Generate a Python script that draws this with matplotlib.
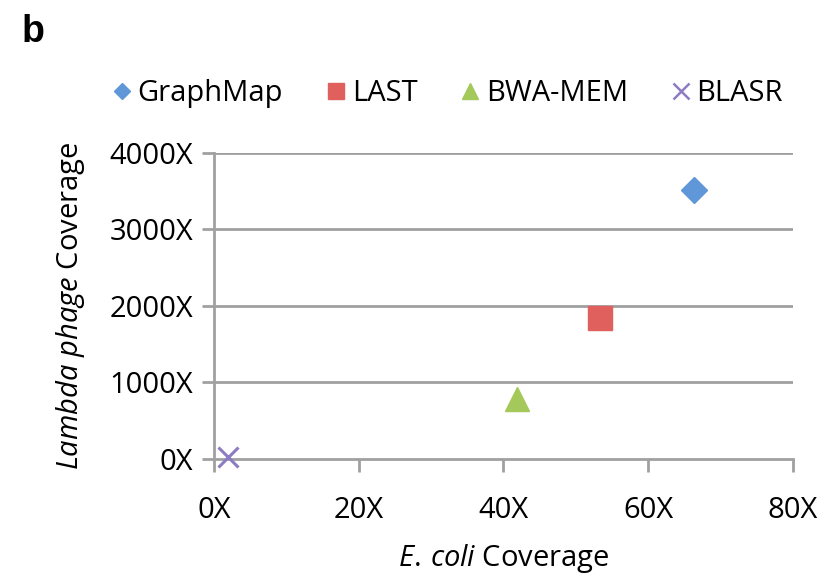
import matplotlib.pyplot as plt

plt.rcParams['font.family'] = ['Open Sans', 'DejaVu Sans']
plt.rcParams['mathtext.fontset'] = 'custom'
plt.rcParams['mathtext.it'] = 'Open Sans:italic'
plt.rcParams['mathtext.rm'] = 'Open Sans'

# tool names and their coverages (E. coli, Lambda phage)
tools = ['GraphMap', 'LAST', 'BWA-MEM', 'BLASR']
ecoli_cov = [66.3, 53.3, 41.9, 1.9]
lambda_cov = [3515, 1840, 790, 25]

markers = ['D', 's', '^', 'x']
colors = ['#5f97d8', '#e0605e', '#a5c85a', '#8e7cc3']
sizes = [13, 17, 17, 14]
leg_sizes = [8, 11, 11, 11]

xticks = [0, 20, 40, 60, 80]
yticks = [0, 1000, 2000, 3000, 4000]

fig = plt.figure(figsize=(8.32, 5.78), dpi=100)
ax = fig.add_axes([0.2572, 0.2059, 0.6959, 0.5294])

grid_c = '#a0a0a0'
for y in yticks[1:]:
    ax.axhline(y, color=grid_c, lw=2, zorder=1)

handles = []
for i in range(len(tools)):
    if markers[i] == 'x':
        ax.plot(ecoli_cov[i], lambda_cov[i], marker='x', ms=sizes[i], mew=2.2,
                color=colors[i], ls='none', zorder=3, clip_on=False)
        h, = plt.plot([], [], marker='x', ms=leg_sizes[i], mew=1.8, color=colors[i], ls='none')
    else:
        ax.plot(ecoli_cov[i], lambda_cov[i], marker=markers[i], ms=sizes[i],
                color=colors[i], mec=colors[i], ls='none', zorder=3, clip_on=False)
        h, = plt.plot([], [], marker=markers[i], ms=leg_sizes[i], color=colors[i],
                      mec=colors[i], ls='none')
    handles.append(h)

ax.set_xlim(0, 80)
ax.set_ylim(0, 4000)
ax.set_xticks(xticks)
ax.set_xticklabels([f'{v}X' for v in xticks])
ax.set_yticks(yticks)
ax.set_yticklabels([f'{v}X' for v in yticks])

for s in ['top', 'right']:
    ax.spines[s].set_visible(False)
for s in ['left', 'bottom']:
    ax.spines[s].set_color(grid_c)
    ax.spines[s].set_linewidth(2)
ax.tick_params(axis='both', colors=grid_c, width=2, length=9, labelcolor='black',
               labelsize=21)
ax.tick_params(axis='x', pad=18)
ax.tick_params(axis='y', pad=6)

ax.set_xlabel(r'$\it{E.\,coli}$ Coverage', fontsize=21, labelpad=12)
ax.set_ylabel(r'$\it{Lambda}$ $\it{phage}$ Coverage', fontsize=21, labelpad=16)

fig.legend(handles, tools, loc='center', bbox_to_anchor=(0.535, 0.838), ncol=4,
           frameon=False, fontsize=21, handletextpad=0.05, columnspacing=1.3,
           handlelength=1.0)

fig.text(0.026, 0.975, 'b', fontsize=27, fontweight='bold', va='top',
         family='Liberation Sans')

fig.savefig('out.png', dpi=100)
